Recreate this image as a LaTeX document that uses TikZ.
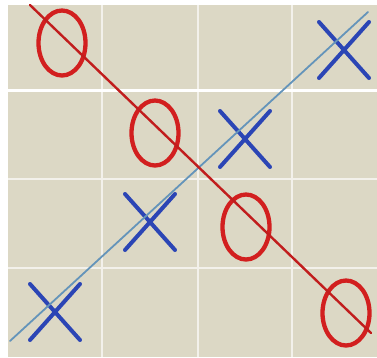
\documentclass[tikz,border=0pt]{standalone}
\usetikzlibrary{shapes.geometric, shapes.misc}
\definecolor{cbeige}{HTML}{DCD8C5}
\definecolor{cred}{HTML}{D21F1F}
\definecolor{cblue}{HTML}{2B45B5}
\definecolor{csteel}{HTML}{6494BA}
\tikzset{
  every picture/.style={x=1pt, y=-1pt},
  ring/.style={ellipse, draw=cred, line width=4.3pt, minimum width=47pt, minimum height=65pt, inner sep=0pt},
  cross/.style={cross out, draw=cblue, line width=4pt, line cap=round, minimum width=46pt, minimum height=52pt, inner sep=0pt},
  gridline/.style={draw=white!65!cbeige, line width=2.5pt},
}

\begin{document}
\begin{tikzpicture}[
  diag/.style={draw=#1, line cap=round}]
  \useasboundingbox (0,0) rectangle (377,357);
  % board
  \fill[white] (0,0) rectangle (377,357);
  \fill[cbeige] (8,5) rectangle (377,357);
  \foreach \x in {102,198,292} \draw[gridline] (\x,5) -- (\x,357);
  \foreach \y in {90,179,268} \draw[gridline] (8,\y) -- (377,\y);
  \draw[draw=white, line width=3pt] (8,90) -- (377,90);
  % noughts
  \foreach \i/\x/\y in {1/62/43, 2/155/133, 3/246/227, 4/346/313}
    \node[ring] (o\i) at (\x,\y) {};
  % crosses
  \foreach \i/\x/\y in {1/55/312, 2/150/222, 3/245/139, 4/344/50}
    \node[cross] (x\i) at (\x,\y) {};
  % winning lines
  \coordinate (b0) at (10,341);
  \coordinate (b1) at (368,12);
  \coordinate (r0) at (30,5);
  \coordinate (r1) at (371,333);
  \draw[diag=csteel, line width=1.8pt] (b0) -- (b1);
  \draw[diag=cred!92!black, line width=2.4pt] (r0) -- (r1);
\end{tikzpicture}
\end{document}
